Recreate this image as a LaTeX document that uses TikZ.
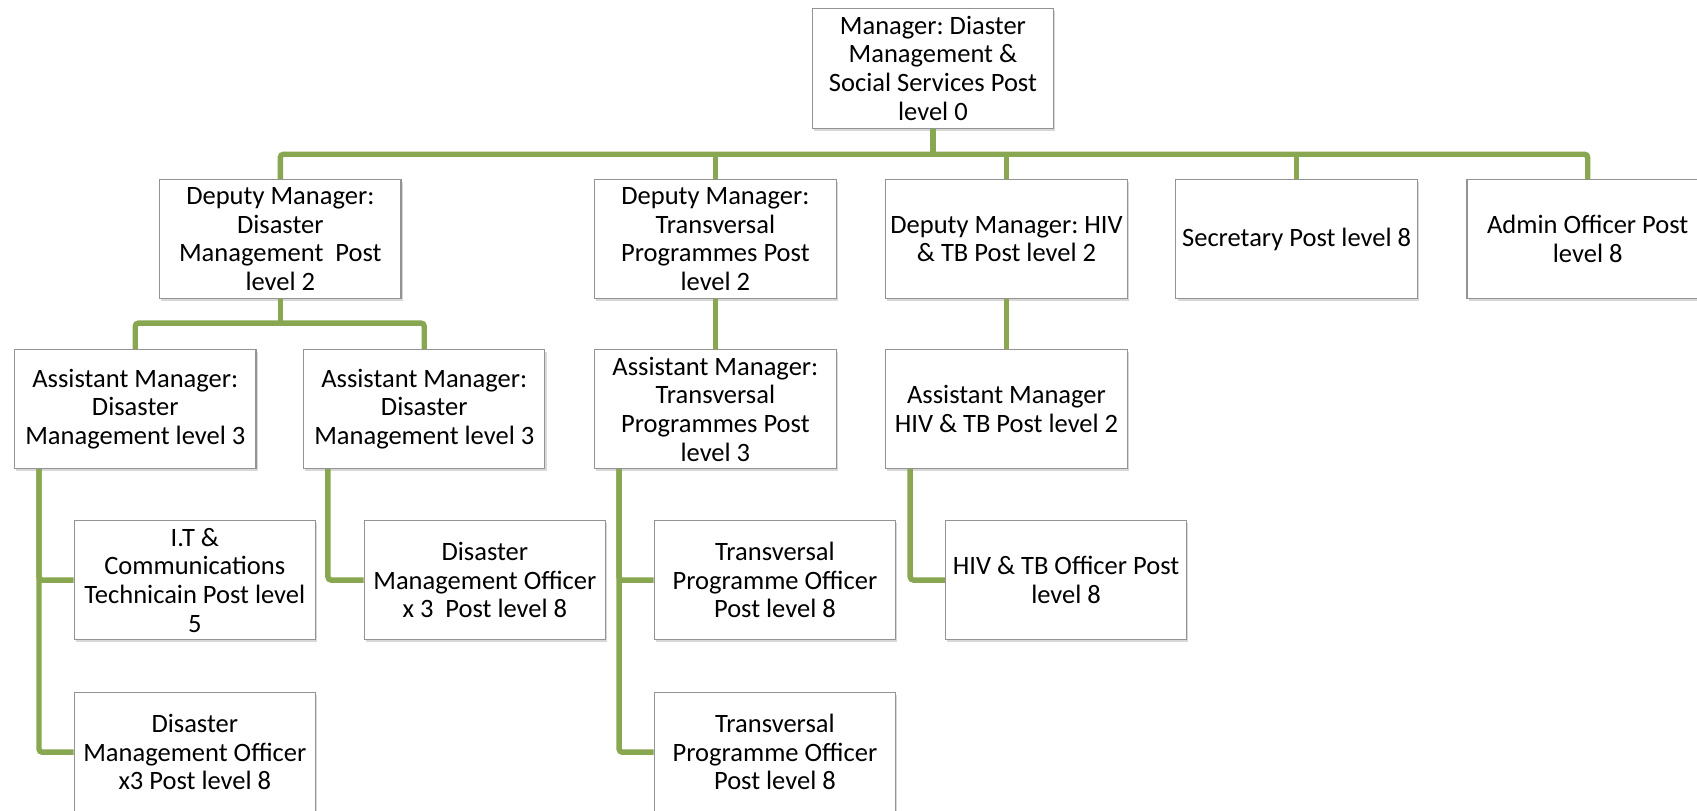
\documentclass[tikz,border=0pt]{standalone}
\usepackage{fontspec}
\setmainfont{Carlito}
\usepackage{tikz}
\usetikzlibrary{calc,positioning,shadows}
\definecolor{lnk}{RGB}{137,166,80}
\frenchspacing
\begin{document}
\begin{tikzpicture}[x=1pt, y=-1pt, conn/.style={draw=lnk, line width=5pt, rounded corners=3pt}]
\tikzstyle{post}=[rectangle, draw=gray!85, line width=1pt, fill=white, minimum width=223pt, minimum height=110pt, inner sep=0pt, align=center, font=\fontsize{24.5}{26.5}\selectfont, drop shadow={shadow xshift=1.5pt, shadow yshift=-2.5pt, opacity=.3}]
\fill[white] (0,0) rectangle (1568,749);
\useasboundingbox (0,0) rectangle (1568,749);
\node[post, minimum height=111pt] (mgr) at (862,63) {Manager: Diaster\\Management \&\\Social Services Post\\level 0};
\node[post] (dmA) at (259,221) {Deputy Manager:\\Disaster\\Management~ Post\\level 2};
\node[post] (dmB) at (661,221) {Deputy Manager:\\Transversal\\Programmes Post\\level 2};
\node[post] (dmC) at (930,221) {Deputy Manager: HIV\\\& TB Post level 2};
\node[post] (sec) at (1198,221) {Secretary Post level 8};
\node[post] (adm) at (1467,221) {Admin Officer Post\\level 8};
\node[post] (amA1) at (125,378) {Assistant Manager:\\Disaster\\Management level 3};
\node[post] (amA2) at (392,378) {Assistant Manager:\\Disaster\\Management level 3};
\node[post] (amB) at (661,378) {Assistant Manager:\\Transversal\\Programmes Post\\level 3};
\node[post] (amC) at (930,378) {Assistant Manager\\HIV \& TB Post level 2};
\node[post] (itc) at (180,536) {I.T \&\\Communications\\Technicain Post level\\5};
\node[post] (dmo1) at (448,536) {Disaster\\Management Officer\\x 3~ Post level 8};
\node[post] (tpo1) at (716,536) {Transversal\\Programme Officer\\Post level 8};
\node[post] (hiv) at (985,536) {HIV \& TB Officer Post\\level 8};
\node[post] (dmo2) at (180,695) {Disaster\\Management Officer\\x3 Post level 8};
\node[post] (tpo2) at (716,695) {Transversal\\Programme Officer\\Post level 8};
% links
\draw[conn] (mgr.south) -- ++(0,25);
\draw[conn] (dmA.north) -- ++(0,-23) -| (adm.north);
\foreach \j in {dmB,dmC,sec}{\draw[conn] (\j.north) -- ++(0,-23);}
\draw[conn] (dmA.south) -- ++(0,23);
\draw[conn] (amA1.north) -- ++(0,-24) -| (amA2.north);
\foreach \i/\j in {dmB/amB,dmC/amC}{\draw[conn] (\i) -- (\j);}
\foreach \i/\j in {amA1/itc,amA1/dmo2,amA2/dmo1,amB/tpo1,amB/tpo2,amC/hiv}{\draw[conn] ($(\i.south west)+(23,0)$) |- (\j.west);}
\end{tikzpicture}
\end{document}
